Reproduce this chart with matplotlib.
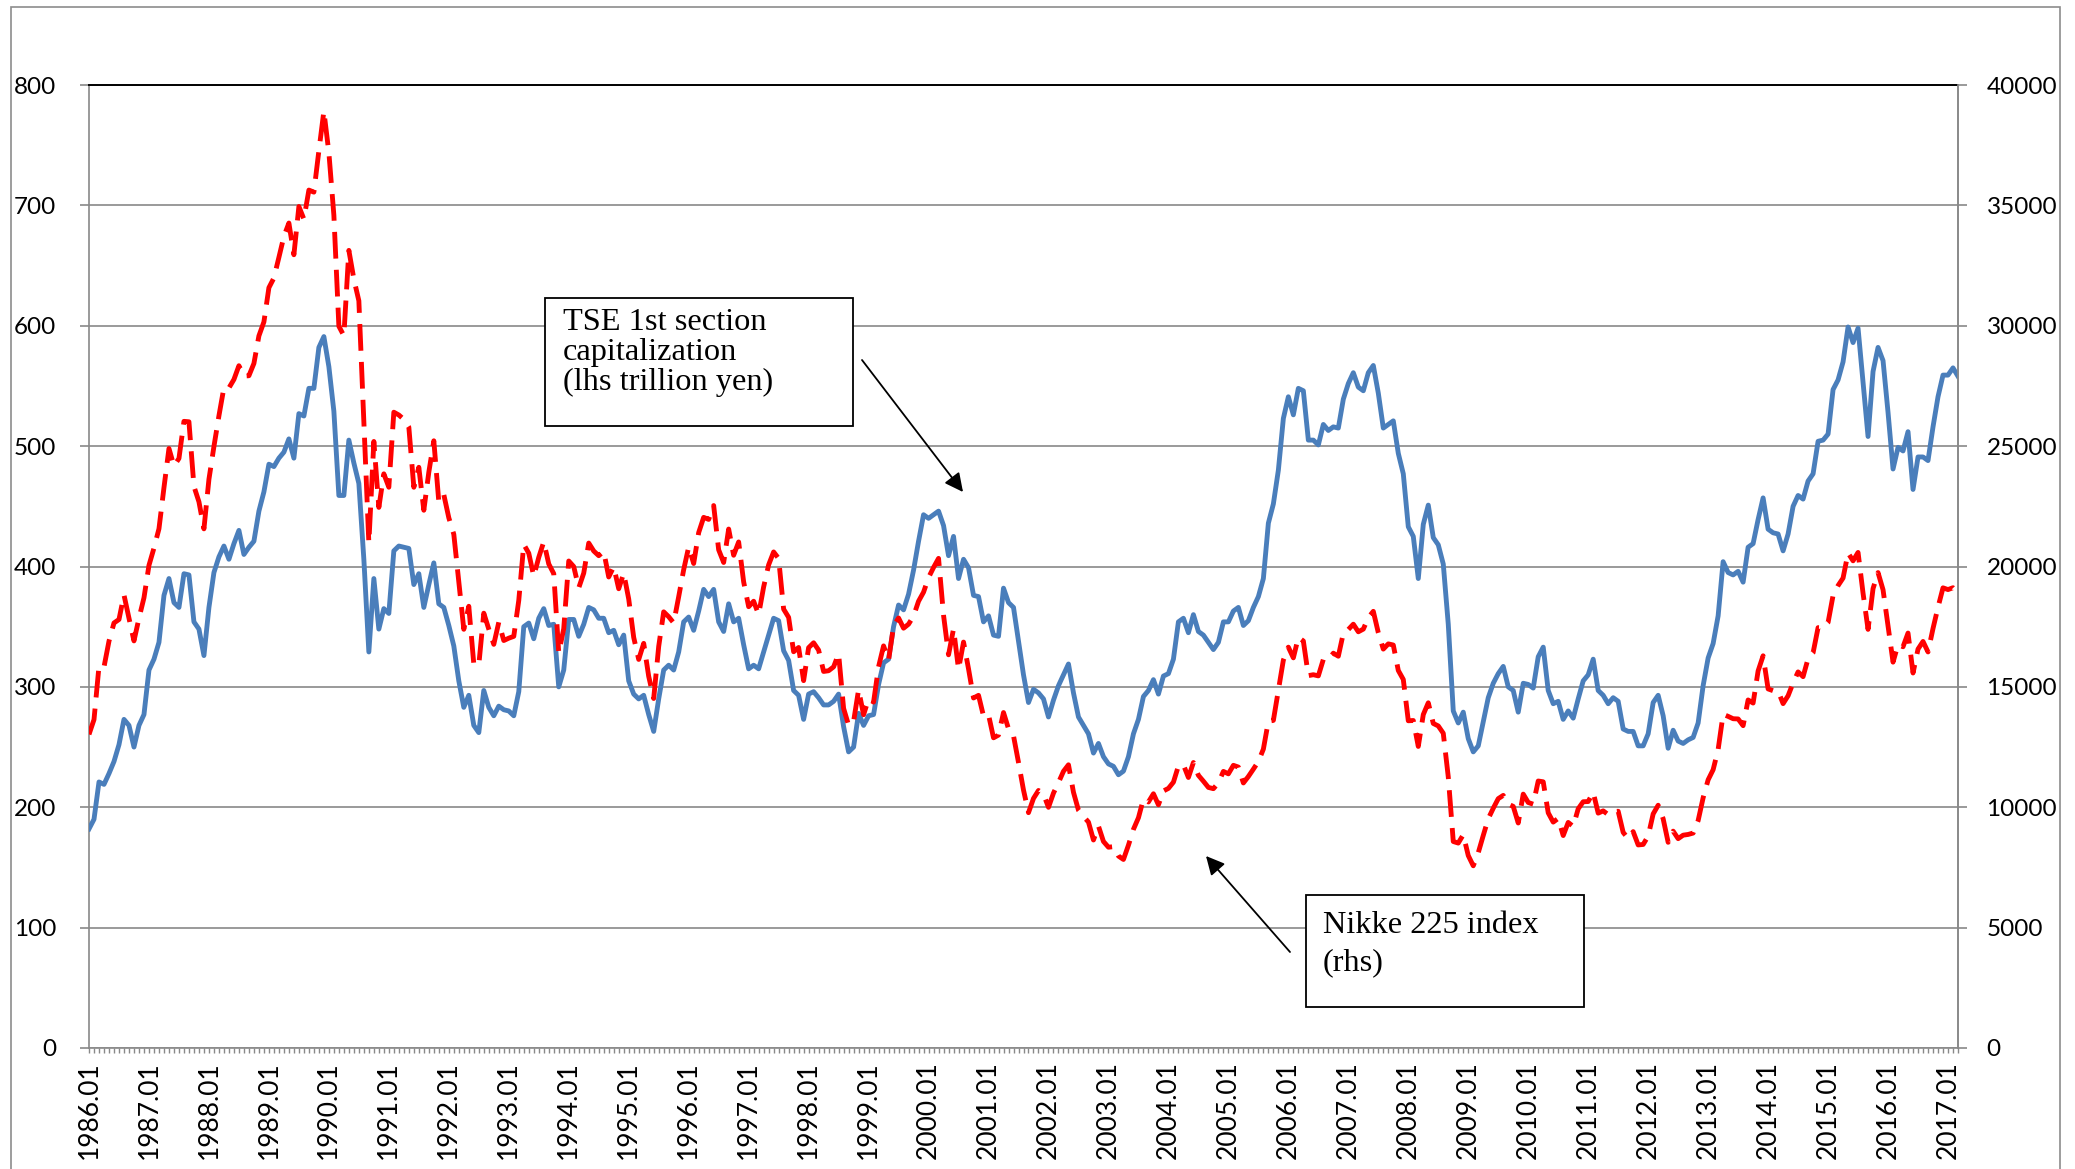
import numpy as np
import matplotlib
matplotlib.use("Agg")
import matplotlib.pyplot as plt
from matplotlib.patches import Rectangle, FancyArrowPatch

plt.rcParams['font.family'] = ['Lato', 'DejaVu Sans']

# TSE 1st section capitalization, trillion yen (lhs), monthly 1986.01 - 2017.03
tse_cap = [
    182, 190, 221, 219, 228, 238, 252, 273, 268, 250, 268, 277,   # 1986
    314, 323, 337, 376, 390, 370, 366, 394, 393, 354, 348, 326,   # 1987
    366, 395, 408, 417, 406, 419, 430, 410, 416, 421, 446, 462,   # 1988
    485, 483, 490, 495, 506, 490, 527, 525, 548, 548, 582, 591,   # 1989
    566, 529, 459, 459, 505, 486, 469, 406, 329, 390, 348, 365,   # 1990
    361, 413, 417, 416, 415, 385, 394, 366, 385, 403, 369, 366,   # 1991
    351, 334, 305, 283, 293, 268, 262, 297, 283, 276, 284, 281,   # 1992
    280, 276, 296, 350, 353, 340, 357, 365, 351, 352, 300, 314,   # 1993
    356, 356, 342, 352, 366, 364, 357, 357, 345, 347, 335, 343,   # 1994
    305, 294, 290, 293, 277, 263, 290, 314, 318, 314, 329, 354,   # 1995
    358, 347, 363, 381, 375, 381, 354, 346, 369, 354, 357, 335,   # 1996
    315, 318, 315, 329, 343, 357, 355, 330, 322, 297, 293, 273,   # 1997
    294, 296, 291, 285, 285, 288, 294, 267, 246, 250, 278, 268,   # 1998
    276, 277, 302, 320, 323, 350, 368, 364, 377, 397, 421, 443,   # 1999
    440, 443, 446, 434, 409, 425, 390, 406, 399, 376, 375, 354,   # 2000
    359, 343, 342, 382, 370, 366, 338, 310, 287, 298, 295, 290,   # 2001
    275, 289, 301, 310, 319, 295, 275, 268, 261, 245, 253, 242,   # 2002
    236, 234, 227, 230, 242, 261, 273, 292, 297, 306, 294, 309,   # 2003
    311, 323, 354, 357, 345, 360, 346, 343, 337, 331, 337, 354,   # 2004
    354, 363, 366, 351, 355, 366, 375, 390, 436, 452, 480, 523,   # 2005
    541, 526, 548, 546, 505, 505, 501, 518, 513, 516, 515, 539,   # 2006
    552, 561, 549, 546, 561, 567, 544, 515, 518, 521, 494, 477,   # 2007
    433, 425, 390, 435, 451, 424, 418, 402, 352, 280, 270, 279,   # 2008
    257, 246, 251, 271, 291, 303, 311, 317, 300, 297, 279, 303,   # 2009
    302, 299, 325, 333, 297, 286, 288, 273, 280, 274, 290, 305,   # 2010
    310, 323, 297, 293, 286, 291, 288, 265, 263, 263, 251, 251,   # 2011
    261, 287, 293, 276, 249, 264, 255, 253, 256, 258, 270, 301,   # 2012
    324, 336, 359, 404, 395, 393, 396, 387, 416, 419, 439, 457,   # 2013
    431, 428, 427, 413, 427, 450, 459, 456, 471, 477, 504, 505,   # 2014
    510, 547, 555, 570, 599, 586, 598, 553, 508, 562, 582, 571,   # 2015
    528, 481, 499, 496, 512, 464, 491, 491, 488, 516, 541, 559,   # 2016
    559, 565, 558,                                                # 2017
]

# Nikkei 225 index (rhs), monthly 1986.01 - 2017.03
nikkei = [
    13024, 13641, 15860, 15826, 16900, 17654, 17800, 18820, 17852, 16910, 17852, 18701,
    20048, 20767, 21567, 23275, 24902, 24176, 24488, 26029, 26011, 23329, 22687, 21564,
    23622, 24985, 26260, 27434, 27417, 27769, 28340, 27911, 27924, 28434, 29579, 30159,
    31581, 31985, 32839, 33713, 34266, 32949, 34954, 34431, 35636, 35549, 37268, 38916,
    37189, 34592, 29980, 29584, 33131, 31940, 31036, 25978, 20984, 25194, 22455, 23849,
    23293, 26409, 26292, 26111, 25790, 23291, 24121, 22336, 23916, 25222, 22687, 22984,
    22023, 21339, 19346, 17391, 18348, 15952, 15910, 18061, 17399, 16767, 17684, 16925,
    17023, 17098, 18591, 20919, 20552, 19590, 20380, 21027, 20106, 19703, 16408, 17417,
    20229, 19997, 19112, 19725, 20974, 20643, 20449, 20629, 19564, 19990, 19076, 19723,
    18650, 17053, 16140, 16807, 15437, 14517, 16678, 18117, 17913, 17655, 18744, 19868,
    20813, 20125, 21407, 22041, 21956, 22531, 20693, 20167, 21556, 20467, 21020, 19361,
    18330, 18557, 18003, 19151, 20069, 20605, 20331, 18229, 17888, 16459, 16636, 15259,
    16628, 16832, 16527, 15641, 15671, 15830, 16379, 14108, 13406, 13564, 14883, 13842,
    14499, 14368, 15837, 16702, 16112, 17530, 17862, 17437, 17605, 17942, 18558, 18934,
    19540, 19960, 20337, 17974, 16332, 17411, 15727, 16861, 15747, 14539, 14649, 13785,
    13843, 12884, 12999, 13934, 13262, 12969, 11861, 10714, 9775, 10367, 10697, 10543,
    9997, 10588, 11025, 11493, 11764, 10622, 9877, 9619, 9383, 8640, 9216, 8579,
    8340, 8363, 7973, 7831, 8425, 9083, 9563, 10344, 10219, 10560, 10101, 10677,
    10784, 11042, 11715, 11762, 11236, 11859, 11326, 11082, 10824, 10771, 11013, 11489,
    11388, 11741, 11669, 11009, 11277, 11584, 11900, 12414, 13574, 13607, 14872, 16111,
    16650, 16205, 17060, 16906, 15467, 15505, 15457, 16141, 16128, 16399, 16274, 17226,
    17383, 17604, 17288, 17400, 17876, 18138, 17249, 16569, 16786, 16738, 15681, 15308,
    13592, 13603, 12526, 13850, 14339, 13481, 13377, 13073, 11260, 8577, 8512, 8860,
    7994, 7568, 8110, 8828, 9523, 9958, 10357, 10493, 10133, 10035, 9346, 10546,
    10198, 10126, 11090, 11057, 9769, 9383, 9537, 8824, 9369, 9202, 9937, 10229,
    10237, 10624, 9755, 9850, 9694, 9816, 9833, 8955, 8700, 8988, 8435, 8455,
    8803, 9723, 10084, 9521, 8543, 9007, 8695, 8840, 8870, 8928, 9446, 10395,
    11139, 11559, 12398, 13861, 13775, 13677, 13668, 13389, 14456, 14328, 15662, 16291,
    14915, 14841, 14828, 14304, 14632, 15162, 15621, 15425, 16174, 16414, 17460, 17451,
    17674, 18798, 19207, 19520, 20563, 20236, 20585, 18890, 17388, 19083, 19747, 19034,
    17518, 16027, 16759, 16666, 17235, 15576, 16569, 16887, 16450, 17425, 18308, 19114,
    19041, 19119, 18909,
]

years = list(range(1986, 2018))
year_labels = [f"{y}.01" for y in years]

grid_col = '#898989'
months = np.arange(len(tse_cap))

fig = plt.figure(figsize=(20.75, 11.69), dpi=100)
ax = fig.add_axes([89 / 2075, 1 - 1048 / 1169, (1958 - 89) / 2075, (1048 - 85) / 1169])

# lhs: TSE capitalization
ax.plot(months, tse_cap, color='#4A7EBB', lw=3.5, solid_joinstyle='round', zorder=3)
ax.set_xlim(0, len(tse_cap) - 1)
ax.set_ylim(0, 800)
ax.set_yticks(range(0, 801, 100))
ax.yaxis.grid(True, color=grid_col, lw=1.2)
ax.set_axisbelow(True)

ax.set_xticks(range(0, len(tse_cap), 12))
ax.set_xticklabels(year_labels, rotation=90, fontsize=19)
ax.set_xticks(months, minor=True)
ax.tick_params(axis='x', which='both', direction='out', length=3.5, width=1,
               color=grid_col, pad=6)
ax.tick_params(axis='y', direction='out', length=6.5, width=1.2, color=grid_col,
               labelsize=17.5, pad=17)

for s in ['left', 'bottom', 'right']:
    ax.spines[s].set_color(grid_col)
    ax.spines[s].set_linewidth(1.2)
ax.spines['top'].set_color('black')
ax.spines['top'].set_linewidth(1.4)

# rhs: Nikkei 225
ax2 = ax.twinx()
ax2.plot(months, nikkei, color='#FF0000', lw=3.5, ls=(0, (5.5, 2.3)),
         dash_capstyle='butt', zorder=3)
ax2.set_ylim(0, 40000)
ax2.set_yticks(range(0, 40001, 5000))
ax2.tick_params(axis='y', direction='out', length=6.5, width=1.2, color=grid_col,
                labelsize=17.5, pad=14)
for s in ['left', 'bottom', 'top']:
    ax2.spines[s].set_visible(False)
ax2.spines['right'].set_color(grid_col)
ax2.spines['right'].set_linewidth(1.2)

# outer chart border
fig.add_artist(Rectangle((11 / 2075, -0.01), (2060 - 11) / 2075, 1.01 - 7 / 1169,
                         transform=fig.transFigure, fill=False,
                         edgecolor='#8c8c8c', lw=1.2))

# text boxes
serif = ['Liberation Serif', 'DejaVu Serif']
fig.add_artist(Rectangle((545 / 2075, 1 - 426 / 1169), (853 - 545) / 2075, 128 / 1169,
                         transform=fig.transFigure, facecolor='white',
                         edgecolor='black', lw=1.3, zorder=4))
fig.text(563 / 2075, 1 - 308 / 1169, "TSE 1st section\ncapitalization\n(lhs trillion yen)",
         family=serif, fontsize=23.3, va='top', ha='left', linespacing=1.05, zorder=5)

fig.add_artist(Rectangle((1306 / 2075, 1 - 1007 / 1169), (1584 - 1306) / 2075, 112 / 1169,
                         transform=fig.transFigure, facecolor='white',
                         edgecolor='black', lw=1.3, zorder=4))
fig.text(1323 / 2075, 1 - 911 / 1169, "Nikke 225 index\n(rhs)",
         family=serif, fontsize=23.3, va='top', ha='left', linespacing=1.38, zorder=5)

# arrows
arrow = dict(arrowstyle='-|>', mutation_scale=28, lw=1.3, color='black',
             shrinkA=0, shrinkB=0)
fig.add_artist(FancyArrowPatch((862 / 2075, 1 - 360 / 1169), (963 / 2075, 1 - 492 / 1169),
                               transform=fig.transFigure, zorder=6, **arrow))
fig.add_artist(FancyArrowPatch((1290 / 2075, 1 - 952 / 1169), (1206 / 2075, 1 - 856 / 1169),
                               transform=fig.transFigure, zorder=6, **arrow))

fig.savefig('out.png', dpi=100)
